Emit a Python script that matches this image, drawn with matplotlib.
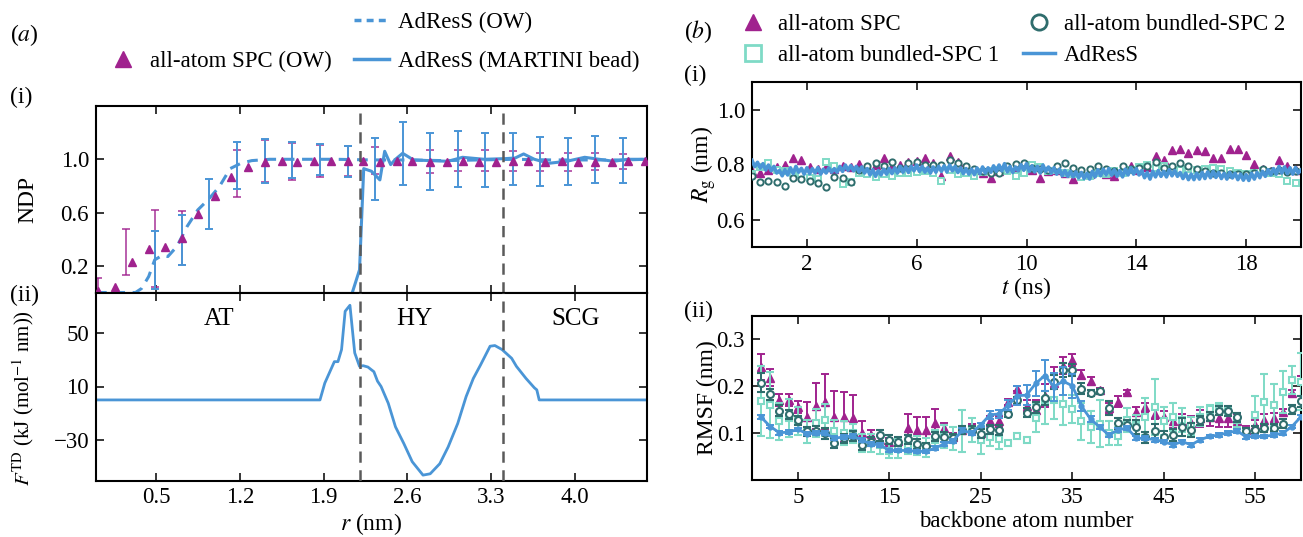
import numpy as np
import matplotlib
matplotlib.use("Agg")
import matplotlib.pyplot as plt
from matplotlib.lines import Line2D

plt.rcParams['font.family'] = ['Liberation Serif', 'DejaVu Serif']
plt.rcParams['mathtext.fontset'] = 'stix'
plt.rcParams['font.size'] = 14

MAG = '#a0228e'
BLUE = '#4a95d6'
AQUA = '#7fdac6'
TEAL = '#2f6d6d'

# ---------------- panel (a)(i) NDP ----------------
r_spc = [0.02, 0.16, 0.30, 0.44, 0.58, 0.72, 0.85, 0.99, 1.13, 1.27, 1.41, 1.55,
         1.68, 1.82, 1.96, 2.10, 2.23, 2.37, 2.51, 2.64, 2.79, 2.93, 3.06, 3.20,
         3.34, 3.48, 3.61, 3.75, 3.89, 4.02, 4.17, 4.31, 4.44, 4.58]
ndp_spc = [0.015, 0.045, 0.23, 0.33, 0.34, 0.41, 0.59, 0.725, 0.87, 0.945, 0.98, 0.99,
           0.98, 0.99, 0.985, 0.985, 0.985, 0.98, 0.985, 0.985, 0.98, 0.98, 0.985, 0.98,
           0.98, 0.985, 0.985, 0.98, 0.985, 0.98, 0.98, 0.98, 0.985, 0.985]

r_err_spc = [0.02, 0.25, 0.49, 0.72, 1.18, 1.41, 1.64, 1.87, 2.10, 2.33, 2.79, 3.02,
             3.25, 3.48, 3.71, 3.94, 4.17, 4.40]
lo_err_spc = [0.0, 0.13, 0.04, 0.21, 0.72, 0.83, 0.845, 0.865, 0.875, 0.89, 0.895, 0.91,
              0.91, 0.91, 0.91, 0.915, 0.92, 0.93]
hi_err_spc = [0.11, 0.475, 0.62, 0.61, 1.07, 1.145, 1.125, 1.11, 1.10, 1.095, 1.07, 1.07,
              1.07, 1.06, 1.045, 1.045, 1.045, 1.04]

r_err_ow = [0.49, 0.72, 0.94, 1.18, 1.41, 1.64, 1.87, 2.10, 2.33, 2.56, 2.79, 3.02,
            3.25, 3.48, 3.71, 3.94, 4.17, 4.40]
lo_err_ow = [0.03, 0.21, 0.48, 0.78, 0.825, 0.86, 0.88, 0.87, 0.695, 0.81, 0.77, 0.79,
             0.795, 0.81, 0.80, 0.81, 0.82, 0.82]
hi_err_ow = [0.46, 0.58, 0.85, 1.13, 1.15, 1.13, 1.115, 1.10, 1.16, 1.28, 1.195, 1.21,
             1.195, 1.195, 1.165, 1.16, 1.175, 1.16]

r_ow = [0.0, 0.26, 0.33, 0.38, 0.44, 0.49, 0.555, 0.60, 0.675, 0.76, 0.85, 0.94, 1.03,
        1.12, 1.21, 1.30, 1.45, 1.7, 2.0, 2.3, 2.6, 2.9, 3.2, 3.5, 3.8, 4.1, 4.4, 4.6]
ndp_ow = [0.0, 0.0, 0.0, 0.03, 0.12, 0.245, 0.28, 0.27, 0.345, 0.495, 0.62, 0.70, 0.795,
          0.93, 0.97, 0.99, 1.0, 1.0, 1.0, 0.995, 0.995, 0.99, 0.995, 1.0, 0.995, 0.995, 0.995, 1.0]

r_mart = [2.14, 2.20, 2.235, 2.30, 2.37, 2.41, 2.46, 2.50, 2.56, 2.65, 2.79, 2.94, 3.06,
          3.24, 3.42, 3.50, 3.57, 3.66, 3.78, 3.93, 4.08, 4.20, 4.32, 4.44, 4.6]
ndp_mart = [0.0, 0.17, 0.93, 0.91, 0.845, 1.06, 0.96, 1.0, 1.045, 0.995, 0.99, 0.985, 1.015,
            1.0, 1.005, 1.01, 1.04, 1.0, 0.97, 0.985, 1.015, 1.0, 0.985, 1.0, 1.0]

# ---------------- panel (a)(ii) F_TD ----------------
r_f = [0.0, 1.87, 1.91, 1.99, 2.02, 2.05, 2.08, 2.12, 2.16, 2.20, 2.23, 2.27, 2.32, 2.35,
       2.38, 2.44, 2.50, 2.57, 2.64, 2.73, 2.79, 2.87, 2.94, 3.02, 3.09, 3.15, 3.21, 3.29,
       3.33, 3.39, 3.47, 3.51, 3.59, 3.66, 3.68, 3.70, 4.6]
f_td = [0.0, 0.0, 12.5, 28.5, 28.5, 37.5, 66.0, 70.5, 35.0, 25.0, 25.5, 24.5, 21.0, 14.0,
        10.0, -2.5, -20.0, -32.5, -46.0, -56.0, -55.0, -47.5, -35.0, -17.5, 2.5, 16.0, 26.0,
        40.0, 40.5, 37.5, 31.0, 25.0, 16.0, 9.0, 7.5, 0.0, 0.0]
region_names = ['AT', 'HY', 'SCG']
region_x = [1.03, 2.66, 4.0]
boundaries = [2.2, 3.4]

# ---------------- panel (b)(i) Rg ----------------
t_mark = np.round(np.arange(0.0, 19.81, 0.3), 2)
rg_spc = [0.776, 0.77, 0.78, 0.792, 0.80, 0.824, 0.818, 0.79, 0.785, 0.79, 0.785, 0.794,
          0.79, 0.802, 0.79, 0.80, 0.822, 0.794, 0.80, 0.808, 0.812, 0.824, 0.806, 0.76,
          0.832, 0.808, 0.79, 0.78, 0.77, 0.752, 0.775, 0.79, 0.78, 0.79, 0.78, 0.752,
          0.775, 0.78, 0.77, 0.748, 0.77, 0.765, 0.78, 0.765, 0.76, 0.78, 0.796, 0.78,
          0.79, 0.832, 0.816, 0.852, 0.858, 0.842, 0.852, 0.848, 0.822, 0.822, 0.858, 0.858,
          0.836, 0.802, 0.782, 0.775, 0.818, 0.794, 0.78]
rg_b2 = [0.758, 0.736, 0.74, 0.736, 0.722, 0.75, 0.746, 0.74, 0.734, 0.718, 0.754, 0.752,
         0.738, 0.78, 0.796, 0.806, 0.796, 0.808, 0.788, 0.806, 0.808, 0.80, 0.80, 0.80,
         0.818, 0.806, 0.794, 0.784, 0.776, 0.77, 0.77, 0.796, 0.802, 0.806, 0.788, 0.785,
         0.78, 0.796, 0.804, 0.788, 0.78, 0.785, 0.796, 0.782, 0.776, 0.794, 0.782, 0.788,
         0.794, 0.808, 0.788, 0.795, 0.806, 0.796, 0.782, 0.776, 0.77, 0.768, 0.766, 0.764,
         0.766, 0.77, 0.784, 0.776, 0.78, 0.772, 0.776]
rg_b1 = [0.764, 0.79, 0.804, 0.78, 0.775, 0.77, 0.765, 0.752, 0.746, 0.808, 0.796, 0.728,
         0.736, 0.77, 0.765, 0.756, 0.765, 0.76, 0.77, 0.768, 0.772, 0.775, 0.77, 0.74,
         0.78, 0.764, 0.77, 0.758, 0.772, 0.775, 0.78, 0.775, 0.76, 0.77, 0.80, 0.79,
         0.775, 0.78, 0.77, 0.765, 0.755, 0.76, 0.77, 0.765, 0.775, 0.77, 0.78, 0.79,
         0.80, 0.788, 0.794, 0.785, 0.78, 0.785, 0.78, 0.785, 0.788, 0.784, 0.775, 0.77,
         0.765, 0.77, 0.775, 0.77, 0.764, 0.74, 0.734]
t_line = np.round(np.arange(0.0, 20.01, 0.1), 2)
rg_adress = [
    0.815, 0.792, 0.808, 0.787, 0.803, 0.780, 0.798, 0.777, 0.793, 0.769,
    0.778, 0.759, 0.781, 0.762, 0.788, 0.767, 0.793, 0.772, 0.786, 0.765,
    0.788, 0.767, 0.785, 0.769, 0.789, 0.765, 0.783, 0.769, 0.788, 0.772,
    0.785, 0.772, 0.793, 0.775, 0.798, 0.779, 0.796, 0.777, 0.793, 0.773,
    0.791, 0.769, 0.785, 0.762, 0.781, 0.757, 0.778, 0.762, 0.783, 0.765,
    0.785, 0.767, 0.788, 0.769, 0.793, 0.772, 0.791, 0.771, 0.793, 0.777,
    0.798, 0.775, 0.793, 0.772, 0.788, 0.769, 0.791, 0.772, 0.793, 0.775,
    0.795, 0.773, 0.798, 0.777, 0.793, 0.771, 0.788, 0.767, 0.785, 0.765,
    0.783, 0.763, 0.787, 0.767, 0.791, 0.769, 0.788, 0.772, 0.795, 0.775,
    0.798, 0.777, 0.803, 0.773, 0.793, 0.771, 0.791, 0.777, 0.799, 0.779,
    0.803, 0.775, 0.795, 0.773, 0.793, 0.769, 0.798, 0.775, 0.791, 0.769,
    0.788, 0.765, 0.783, 0.759, 0.778, 0.757, 0.775, 0.755, 0.773, 0.752,
    0.771, 0.749, 0.768, 0.747, 0.775, 0.755, 0.781, 0.759, 0.783, 0.762,
    0.785, 0.761, 0.781, 0.757, 0.778, 0.755, 0.783, 0.762, 0.788, 0.765,
    0.785, 0.762, 0.778, 0.752, 0.771, 0.747, 0.775, 0.755, 0.778, 0.757,
    0.775, 0.755, 0.781, 0.759, 0.778, 0.757, 0.771, 0.749, 0.768, 0.745,
    0.765, 0.745, 0.768, 0.747, 0.771, 0.749, 0.773, 0.752, 0.775, 0.753,
    0.771, 0.749, 0.768, 0.747, 0.771, 0.751, 0.768, 0.745, 0.765, 0.743,
    0.763, 0.742, 0.768, 0.747, 0.771, 0.752, 0.775, 0.757, 0.781, 0.762,
    0.785, 0.765, 0.793, 0.769, 0.791, 0.767, 0.788, 0.765, 0.789, 0.769,
    0.78]

# ---------------- panel (b)(ii) RMSF ----------------
atom = np.arange(1, 61)
rmsf_adress = [0.134, 0.114, 0.101, 0.102, 0.108, 0.099, 0.100, 0.100, 0.089, 0.092,
               0.094, 0.085, 0.077, 0.075, 0.063, 0.063, 0.063, 0.061, 0.061, 0.068,
               0.077, 0.084, 0.106, 0.100, 0.118, 0.139, 0.141, 0.160, 0.180, 0.181,
               0.206, 0.223, 0.199, 0.211, 0.201, 0.158, 0.130, 0.113, 0.096, 0.107,
               0.111, 0.089, 0.089, 0.086, 0.082, 0.075, 0.082, 0.075, 0.086, 0.093,
               0.096, 0.101, 0.105, 0.092, 0.093, 0.093, 0.096, 0.100, 0.114, 0.135]
err_adress = [0.004] * 25 + [0.008, 0.008, 0.01, 0.02, 0.022, 0.026, 0.033, 0.03, 0.03,
                             0.025, 0.01, 0.006] + [0.004] * 23
rmsf_b2 = [0.208, 0.183, 0.148, 0.140, 0.127, 0.104, 0.105, 0.100, 0.079, 0.089,
           0.094, 0.075, 0.082, 0.095, 0.086, 0.082, 0.087, 0.077, 0.072, 0.093,
           0.092, 0.089, 0.107, 0.105, 0.099, 0.108, 0.107, 0.140, 0.170, 0.144,
           0.155, 0.174, 0.209, 0.235, 0.235, 0.195, 0.186, 0.189, 0.153, 0.121,
           0.118, 0.114, 0.091, 0.104, 0.092, 0.096, 0.113, 0.106, 0.127, 0.135,
           0.148, 0.147, 0.134, 0.104, 0.107, 0.111, 0.112, 0.120, 0.151, 0.168]
err_b2 = [0.02, 0.012, 0.012, 0.01, 0.01, 0.01, 0.01, 0.012, 0.01, 0.01,
          0.01, 0.01, 0.01, 0.012, 0.01, 0.01, 0.01, 0.01, 0.008, 0.01,
          0.01, 0.01, 0.008, 0.01, 0.01, 0.01, 0.01, 0.006, 0.008, 0.01,
          0.012, 0.015, 0.015, 0.015, 0.012, 0.012, 0.006, 0.006, 0.015, 0.012,
          0.01, 0.015, 0.012, 0.015, 0.012, 0.012, 0.02, 0.015, 0.01, 0.01,
          0.01, 0.01, 0.01, 0.006, 0.008, 0.008, 0.008, 0.01, 0.01, 0.012]
rmsf_spc = [0.241, 0.218, 0.170, 0.170, 0.156, 0.135, 0.158, 0.167, 0.135, 0.135,
            0.132, 0.100, 0.096, 0.086, 0.082, 0.084, 0.111, 0.107, 0.107, 0.121,
            0.111, 0.092, 0.107, 0.111, 0.100, 0.125, 0.125, 0.167, 0.195, 0.158,
            0.150, 0.180, 0.206, 0.244, 0.256, 0.225, 0.211, 0.192, 0.153, 0.167,
            0.188, 0.146, 0.155, 0.140, 0.135, 0.126, 0.125, 0.121, 0.132, 0.135,
            0.132, 0.132, 0.125, 0.107, 0.118, 0.128, 0.132, 0.146, 0.186, 0.213]
err_spc = [0.027, 0.018, 0.013, 0.013, 0.012, 0.032, 0.05, 0.06, 0.055, 0.053,
           0.05, 0.025, 0.01, 0.008, 0.008, 0.008, 0.03, 0.027, 0.027, 0.03,
           0.01, 0.008, 0.008, 0.008, 0.008, 0.012, 0.012, 0.006, 0.006, 0.012,
           0.02, 0.025, 0.035, 0.018, 0.012, 0.01, 0.008, 0.004, 0.012, 0.012,
           0.004, 0.01, 0.01, 0.01, 0.012, 0.015, 0.015, 0.015, 0.018, 0.02,
           0.018, 0.018, 0.015, 0.008, 0.01, 0.012, 0.012, 0.006, 0.006, 0.01]
rmsf_b1 = [0.168, 0.160, 0.125, 0.132, 0.126, 0.104, 0.121, 0.128, 0.104, 0.100,
           0.100, 0.079, 0.079, 0.075, 0.061, 0.068, 0.075, 0.073, 0.070, 0.086,
           0.093, 0.089, 0.104, 0.107, 0.086, 0.092, 0.087, 0.080, 0.094, 0.085,
           0.132, 0.170, 0.170, 0.163, 0.151, 0.125, 0.113, 0.120, 0.100, 0.094,
           0.128, 0.118, 0.135, 0.156, 0.125, 0.135, 0.128, 0.115, 0.135, 0.151,
           0.155, 0.146, 0.128, 0.104, 0.139, 0.167, 0.160, 0.188, 0.213, 0.210]
err_b1 = [0.075, 0.07, 0.04, 0.04, 0.03, 0.025, 0.03, 0.035, 0.025, 0.025,
          0.02, 0.02, 0.02, 0.02, 0.015, 0.02, 0.02, 0.02, 0.02, 0.02,
          0.025, 0.025, 0.045, 0.025, 0.03, 0.02, 0.02, 0.004, 0.004, 0.004,
          0.03, 0.05, 0.04, 0.045, 0.03, 0.04, 0.035, 0.05, 0.025, 0.02,
          0.025, 0.02, 0.04, 0.06, 0.03, 0.03, 0.025, 0.02, 0.02, 0.01,
          0.01, 0.01, 0.015, 0.006, 0.04, 0.06, 0.045, 0.045, 0.03, 0.06]

# ================= figure =================
W, H = 1303, 537
fig = plt.figure(figsize=(W / 100, H / 100), dpi=100)

def frac(x0, y0, x1, y1):
    return [x0 / W, 1 - y1 / H, (x1 - x0) / W, (y1 - y0) / H]

ax1 = fig.add_axes(frac(96, 106, 647, 292.5))
ax2 = fig.add_axes(frac(96, 292.5, 647, 480.5), sharex=ax1)
ax3 = fig.add_axes(frac(752, 82, 1301, 247))
ax4 = fig.add_axes(frac(752, 316, 1301, 480))

for ax in (ax1, ax2, ax3, ax4):
    ax.tick_params(direction='in', top=True, right=True, length=6, width=1.1,
                   labelsize=16.5, pad=5)
    for s in ax.spines.values():
        s.set_linewidth(1.5)

# --- NDP
def errs(lo, hi):
    lo = np.array(lo); hi = np.array(hi)
    return (lo + hi) / 2, (hi - lo) / 2

c, e = errs(lo_err_spc, hi_err_spc)
ax1.errorbar(r_err_spc, c, yerr=e, fmt='none', ecolor=MAG, elinewidth=1.2,
             capsize=3, capthick=1.2, alpha=0.85, zorder=2)
c, e = errs(lo_err_ow, hi_err_ow)
ax1.errorbar(r_err_ow, c, yerr=e, fmt='none', ecolor=BLUE, elinewidth=1.4,
             capsize=3, capthick=1.4, zorder=3)
ax1.plot(r_ow, ndp_ow, color=BLUE, lw=2.2, ls=(0, (3.5, 2.5)), zorder=4)
ax1.plot(r_mart, ndp_mart, color=BLUE, lw=2.2, zorder=4)
ax1.plot(r_spc, ndp_spc, ls='none', marker='^', ms=6, color=MAG, mec=MAG, zorder=5)
ax1.set_xlim(0, 4.6)
ax1.set_ylim(0, 1.4)
ax1.set_yticks([0.2, 0.6, 1.0])
ax1.set_yticklabels(['0.2', '0.6', '1.0'])
ax1.set_ylabel('NDP', fontsize=17)
ax1.yaxis.set_label_coords(-0.105, 0.5)
plt.setp(ax1.get_xticklabels(), visible=False)

# --- F_TD
ax2.plot(r_f, f_td, color=BLUE, lw=2.0)
ax2.set_ylim(-60, 80)
ax2.set_yticks([-30, 10, 50])
ax2.set_yticklabels(['\u221230', '10', '50'])
ax2.set_xticks([0.5, 1.2, 1.9, 2.6, 3.3, 4.0])
ax2.set_xticklabels(['0.5', '1.2', '1.9', '2.6', '3.3', '4.0'])
ax2.set_xlabel('$r$ (nm)', fontsize=17, labelpad=2)
ax2.set_ylabel(r'$F^{\rm TD}$ (kJ (mol$^{-1}$ nm))', fontsize=15)
ax2.yaxis.set_label_coords(-0.108, 0.44)
for name, x in zip(region_names, region_x):
    ax2.text(x, 60, name, ha='center', va='center', fontsize=18)

for ax in (ax1, ax2):
    for b in boundaries:
        ax.axvline(b, color='#5a5a5a', lw=1.8, ls=(0, (4.5, 3)), zorder=6)

# --- Rg
ax3.plot(t_mark, rg_spc, ls='none', marker='^', ms=5.5, color=MAG, mec=MAG, zorder=2)
ax3.plot(t_mark, rg_b1, ls='none', marker='s', ms=4.5, mfc='white', mec=AQUA, mew=1.4, zorder=3)
ax3.plot(t_mark, rg_b2, ls='none', marker='o', ms=4.5, mfc='white', mec=TEAL, mew=1.4, zorder=3)
ax3.plot(t_line, rg_adress, color=BLUE, lw=2.6, zorder=4)
ax3.set_xlim(0, 20)
ax3.set_ylim(0.5, 1.1)
ax3.set_xticks([2, 6, 10, 14, 18])
ax3.set_yticks([0.6, 0.8, 1.0])
ax3.set_yticklabels(['0.6', '0.8', '1.0'])
ax3.set_xlabel('$t$ (ns)', fontsize=17, labelpad=0)
ax3.set_ylabel(r'$R_{\rm g}$ (nm)', fontsize=17)
ax3.yaxis.set_label_coords(-0.062, 0.5)

# --- RMSF
ax4.errorbar(atom, rmsf_spc, yerr=err_spc, ls='none', marker='^', ms=6, color=MAG,
             mec=MAG, ecolor=MAG, elinewidth=1.4, capsize=3, capthick=1.4, zorder=2)
ax4.errorbar(atom, rmsf_b1, yerr=err_b1, ls='none', marker='s', ms=5, mfc='white',
             mec=AQUA, mew=1.5, ecolor=AQUA, elinewidth=1.4, capsize=3, capthick=1.4, zorder=3)
ax4.errorbar(atom, rmsf_b2, yerr=err_b2, ls='none', marker='o', ms=5, mfc='white',
             mec=TEAL, mew=1.5, ecolor=TEAL, elinewidth=1.4, capsize=3, capthick=1.4, zorder=4)
ax4.errorbar(atom, rmsf_adress, yerr=err_adress, color=BLUE, lw=2.0, marker='o', ms=3.5,
             ecolor=BLUE, elinewidth=1.4, capsize=3, capthick=1.4, zorder=5)
ax4.set_xlim(0, 60)
ax4.set_ylim(0, 0.35)
ax4.set_xticks([5, 15, 25, 35, 45, 55])
ax4.set_yticks([0.1, 0.2, 0.3])
ax4.set_yticklabels(['0.1', '0.2', '0.3'])
ax4.set_xlabel('backbone atom number', fontsize=16.5, labelpad=2)
ax4.set_ylabel('RMSF (nm)', fontsize=17)
ax4.yaxis.set_label_coords(-0.062, 0.5)

# --- panel labels
fig.text(10 / W, 1 - 35 / H, '($a$)', fontsize=17, va='center')
fig.text(10 / W, 1 - 97 / H, '(i)', fontsize=17, va='center')
fig.text(10 / W, 1 - 295 / H, '(ii)', fontsize=17, va='center')
fig.text(684 / W, 1 - 32 / H, '($b$)', fontsize=17, va='center')
fig.text(684 / W, 1 - 75 / H, '(i)', fontsize=17, va='center')
fig.text(684 / W, 1 - 311 / H, '(ii)', fontsize=17, va='center')

# --- legends
blank = Line2D([], [], ls='none')
h_spc = Line2D([], [], ls='none', marker='^', ms=12, color=MAG)
h_ow = Line2D([], [], color=BLUE, lw=2.5, ls=(0, (2, 1.5)))
h_mart = Line2D([], [], color=BLUE, lw=2.5)
fig.legend([blank, h_spc, h_ow, h_mart], ['', 'all-atom SPC (OW)', 'AdResS (OW)',
           'AdResS (MARTINI bead)'], ncol=2, loc='center',
           bbox_to_anchor=(0.286, 1 - 42 / H), frameon=False, fontsize=16.5,
           handlelength=1.5, handletextpad=0.4, columnspacing=1.0, labelspacing=0.8)

h_tri = Line2D([], [], ls='none', marker='^', ms=12, color=MAG)
h_sq = Line2D([], [], ls='none', marker='s', ms=11, mfc='white', mec=AQUA, mew=2)
h_ci = Line2D([], [], ls='none', marker='o', ms=11, mfc='white', mec=TEAL, mew=2)
h_ad = Line2D([], [], color=BLUE, lw=2.5)
fig.legend([h_tri, h_sq, h_ci, h_ad], ['all-atom SPC', 'all-atom bundled-SPC 1',
           'all-atom bundled-SPC 2', 'AdResS'], ncol=2, loc='center',
           bbox_to_anchor=(0.776, 1 - 40 / H), frameon=False, fontsize=16.5,
           handlelength=1.4, handletextpad=0.4, columnspacing=1.0, labelspacing=0.4)

fig.savefig('out.png', dpi=100)
